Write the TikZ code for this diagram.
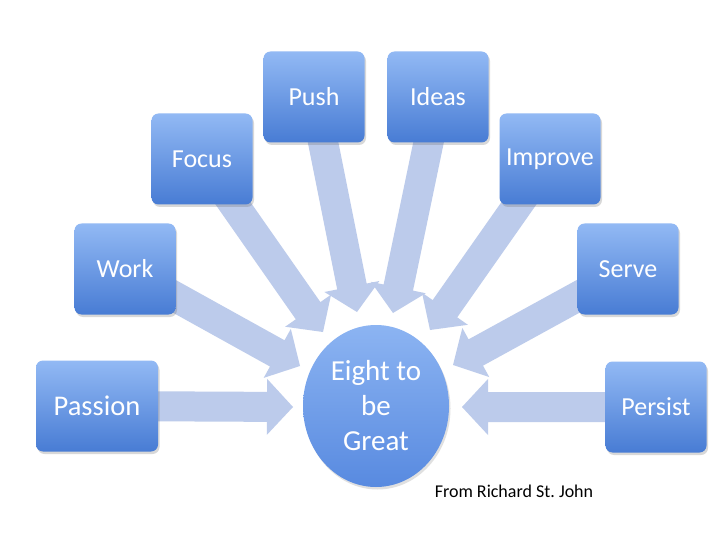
\documentclass[tikz,border=0pt]{standalone}
\usepackage{fontspec}
\setmainfont{Carlito}
\usetikzlibrary{calc,shapes.geometric,shadows}
\pgfdeclarelayer{back}
\pgfdeclarelayer{bg}
\pgfsetlayers{back,bg,main}
\definecolor{boxtop}{RGB}{146,185,244}
\definecolor{boxbot}{RGB}{72,124,212}
\definecolor{elltop}{RGB}{140,180,242}
\definecolor{ellbot}{RGB}{88,138,224}
\definecolor{arrowc}{RGB}{188,203,235}
\tikzset{
  stepbox/.style={rounded corners=7pt, minimum width=101pt, minimum height=91pt,
    top color=boxtop, bottom color=boxbot, draw=none, text=white,
    font=\fontsize{26}{30}\selectfont,
    drop shadow={shadow xshift=1.5pt, shadow yshift=-2.5pt, opacity=0.25, fill=black!60}},
  hub/.style={ellipse, minimum width=146pt, minimum height=162pt, inner sep=0pt,
    top color=elltop, bottom color=ellbot, draw=none, text=white, align=center,
    font=\fontsize{29}{35}\selectfont,
    drop shadow={shadow xshift=1.5pt, shadow yshift=-2.5pt, opacity=0.2, fill=black!60}},
  arrowfill/.style={fill=arrowc},
  caption/.style={text=black, font=\fontsize{18}{21}\selectfont}
}
\newcommand\bigarrow[2]{%
  \path coordinate (h) at ($(#2)!26pt!(#1)$);
  \fill[arrowfill] ($(#1)!15pt!90:(#2)$) -- ($(h)!15pt!90:(#2)$) -- ($(h)!28pt!90:(#2)$)
    -- (#2) -- ($(h)!28pt!-90:(#2)$) -- ($(h)!15pt!-90:(#2)$) -- ($(#1)!15pt!-90:(#2)$) -- cycle;
}
\begin{document}
\begin{tikzpicture}[x=1pt,y=-1pt]
\begin{pgfonlayer}{back}
\fill[white] (0,0) rectangle (720,540);
\end{pgfonlayer}
\useasboundingbox (0,0) rectangle (720,540);
% boxes
\node[stepbox, minimum width=122pt, font=\fontsize{28.5}{32}\selectfont] (passion) at (97,406) {Passion};
\node[stepbox] (work) at (125,269) {Work};
\node[stepbox] (focus) at (202,159) {Focus};
\node[stepbox] (push) at (314,97) {Push};
\node[stepbox] (ideas) at (438,97) {Ideas};
\node[stepbox] (improve) at (550,159) {Improve};
\node[stepbox] (serve) at (628,269) {Serve};
\node[stepbox] (persist) at (656,407) {Persist};
% hub
\node[hub] (hub) at (376,406) {Eight to\\be\\Great};
\node[caption] (cap) at (514,491) {From Richard St.\ John};
% arrow tips
\coordinate (tpassion) at (293,407);
\coordinate (twork) at (300,366);
\coordinate (tfocus) at (323,332);
\coordinate (tpush) at (357,312);
\coordinate (tideas) at (393,313);
\coordinate (timprove) at (430,330);
\coordinate (tserve) at (453,365);
\coordinate (tpersist) at (462,407);
\begin{pgfonlayer}{bg}
\bigarrow{passion}{tpassion}
\bigarrow{work}{twork}
\bigarrow{focus}{tfocus}
\bigarrow{push}{tpush}
\bigarrow{ideas}{tideas}
\bigarrow{improve}{timprove}
\bigarrow{serve}{tserve}
\bigarrow{persist}{tpersist}
\end{pgfonlayer}
\end{tikzpicture}
\end{document}
